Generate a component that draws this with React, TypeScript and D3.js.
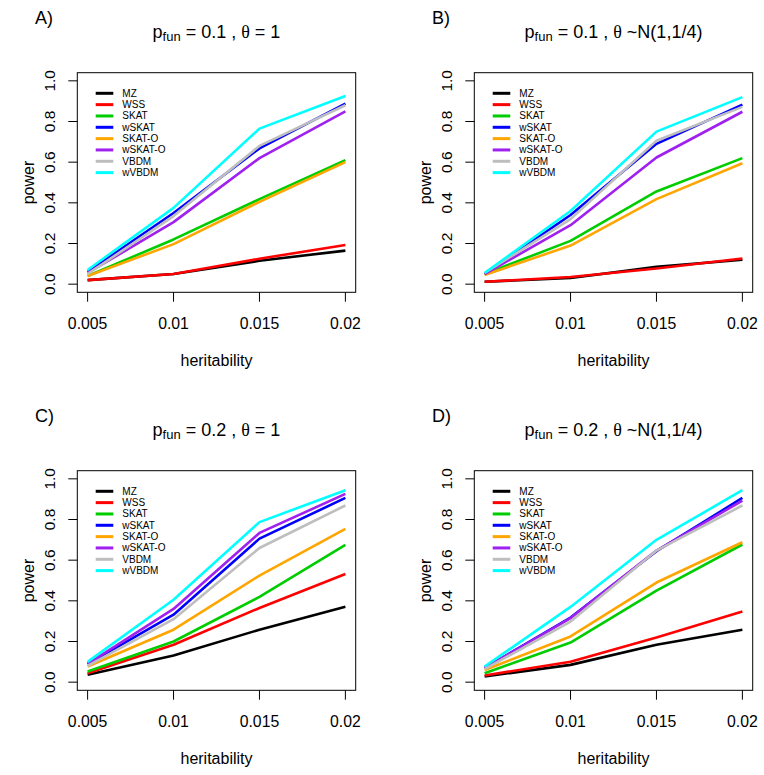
import React from "react";
import * as d3 from "d3";

const heritability = [0.005, 0.01, 0.015, 0.02];
const xTickLabels = ["0.005", "0.01", "0.015", "0.02"];
const yTicks = [0, 0.2, 0.4, 0.6, 0.8, 1.0];
const methods = ["MZ", "WSS", "SKAT", "wSKAT", "SKAT-O", "wSKAT-O", "VBDM", "wVBDM"];
const colors = ["#000000", "#FF0000", "#00CD00", "#0000FF", "#FFA500", "#A020F0", "#BEBEBE", "#00FFFF"];

// power values per method (order as in methods), at each heritability
const powerA = [
  [0.02, 0.05, 0.115, 0.165],
  [0.02, 0.05, 0.125, 0.193],
  [0.04, 0.22, 0.418, 0.61],
  [0.06, 0.35, 0.668, 0.888],
  [0.04, 0.197, 0.405, 0.6],
  [0.055, 0.305, 0.62, 0.85],
  [0.05, 0.335, 0.68, 0.88],
  [0.07, 0.375, 0.765, 0.925],
];
const powerB = [
  [0.012, 0.03, 0.085, 0.12],
  [0.012, 0.035, 0.077, 0.126],
  [0.05, 0.213, 0.456, 0.62],
  [0.05, 0.34, 0.69, 0.883],
  [0.045, 0.19, 0.418, 0.595],
  [0.05, 0.29, 0.623, 0.848],
  [0.055, 0.32, 0.705, 0.872],
  [0.055, 0.36, 0.75, 0.92],
];
const powerC = [
  [0.036, 0.131, 0.258, 0.371],
  [0.044, 0.184, 0.365, 0.532],
  [0.052, 0.2, 0.419, 0.675],
  [0.089, 0.332, 0.706, 0.906],
  [0.077, 0.258, 0.524, 0.754],
  [0.09, 0.36, 0.734, 0.926],
  [0.08, 0.31, 0.66, 0.869],
  [0.1, 0.405, 0.787, 0.944],
];
const powerD = [
  [0.028, 0.085, 0.184, 0.258],
  [0.033, 0.1, 0.22, 0.348],
  [0.044, 0.195, 0.45, 0.677],
  [0.069, 0.318, 0.644, 0.906],
  [0.06, 0.225, 0.49, 0.688],
  [0.069, 0.315, 0.647, 0.893],
  [0.064, 0.298, 0.647, 0.869],
  [0.077, 0.37, 0.7, 0.944],
];

const panelLetters = ["A)", "B)", "C)", "D)"];
const panelPfun = ["0.1", "0.1", "0.2", "0.2"];
const panelTheta = ["= 1", "~N(1,1/4)", "= 1", "~N(1,1/4)"];
const panelData = [powerA, powerB, powerC, powerD];

const FONT = "'Liberation Sans', Arial, Helvetica, sans-serif";
const SERIF = "'Liberation Serif', 'DejaVu Serif', serif";

const W = 278.4;
const H = 219.6;
const origins = [
  [77.3, 72.7],
  [474.3, 72.7],
  [77.3, 470.7],
  [474.3, 470.7],
];

function Panel({ idx }: { idx: number }) {
  const [L, T] = origins[idx];
  const padX = (W * 0.04) / 1.08;
  const padY = (H * 0.04) / 1.08;
  const x = d3.scaleLinear().domain([0.005, 0.02]).range([L + padX, L + W - padX]);
  const y = d3.scaleLinear().domain([0, 1]).range([T + H - padY, T + padY]);
  const line = d3
    .line<number>()
    .x((_, i) => x(heritability[i]))
    .y((d) => y(d));
  const data = panelData[idx];
  const theta = panelTheta[idx];
  return (
    <g>
      <text x={L - 42.3} y={T - 49.2} fontSize={18} fontFamily={FONT} fill="#000">
        {panelLetters[idx]}
      </text>
      <text x={L + W / 2} y={T - 35.2} fontSize={18} fontFamily={FONT} textAnchor="middle" fill="#000">
        <tspan>p</tspan>
        <tspan fontSize={13} dy={3.8}>fun</tspan>
        <tspan dy={-3.8}>{" = " + panelPfun[idx] + " , "}</tspan>
        <tspan fontFamily={SERIF}>θ</tspan>
        <tspan>{" " + theta}</tspan>
      </text>
      {data.map((vals, i) => (
        <path key={methods[i]} d={line(vals) || ""} fill="none" stroke={colors[i]} strokeWidth={2.6} strokeLinejoin="round" />
      ))}
      <rect x={L} y={T} width={W} height={H} fill="none" stroke="#000" strokeWidth={1} />
      {yTicks.map((t) => (
        <g key={"y" + t}>
          <line x1={L - 9} x2={L} y1={y(t)} y2={y(t)} stroke="#000" strokeWidth={1} />
          <text
            transform={`translate(${L - 28},${y(t)}) rotate(-90)`}
            textAnchor="middle"
            dy="0.35em"
            fontSize={15.5}
            fontFamily={FONT}
            fill="#000"
          >
            {t.toFixed(1)}
          </text>
        </g>
      ))}
      {heritability.map((h, i) => (
        <g key={"x" + h}>
          <line x1={x(h)} x2={x(h)} y1={T + H} y2={T + H + 9.4} stroke="#000" strokeWidth={1} />
          <text x={x(h)} y={T + H + 36.4} textAnchor="middle" fontSize={15.8} fontFamily={FONT} fill="#000">
            {xTickLabels[i]}
          </text>
        </g>
      ))}
      <text x={L + W / 2} y={T + H + 73.2} textAnchor="middle" fontSize={16} fontFamily={FONT} fill="#000">
        heritability
      </text>
      <text
        transform={`translate(${L - 43},${T + H / 2}) rotate(-90)`}
        textAnchor="middle"
        fontSize={16}
        fontFamily={FONT}
        fill="#000"
      >
        power
      </text>
      {methods.map((m, i) => {
        const ry = T + 20.6 + i * 11.33;
        return (
          <g key={"lg" + m}>
            <line x1={L + 18.4} x2={L + 36} y1={ry} y2={ry} stroke={colors[i]} strokeWidth={3} />
            <text x={L + 45} y={ry} dy="0.35em" fontSize={10} fontFamily={FONT} fill="#000">
              {m}
            </text>
          </g>
        );
      })}
    </g>
  );
}

export default function App() {
  return (
    <svg
      width={764}
      height={775}
      style={{ position: "absolute", left: 0, top: 0, background: "#fff", display: "block" }}
    >
      <rect x={0} y={0} width={764} height={775} fill="#fff" />
      {[0, 1, 2, 3].map((i) => (
        <Panel key={i} idx={i} />
      ))}
    </svg>
  );
}
